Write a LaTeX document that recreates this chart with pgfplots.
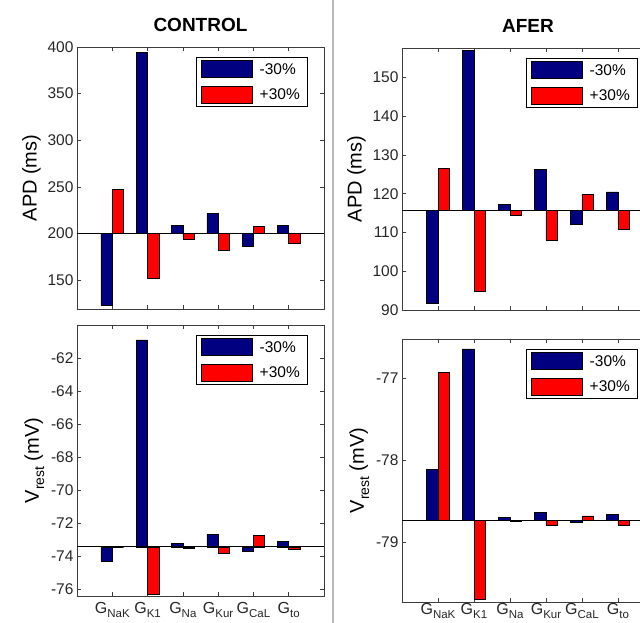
\documentclass[border=0pt]{standalone}
\usepackage{fontspec}
\setmainfont{Liberation Sans}
\usepackage{pgfplots}
\pgfplotsset{compat=1.18}

\definecolor{barblue}{RGB}{0,0,128}
\definecolor{barred}{RGB}{255,0,0}
\definecolor{axgray}{RGB}{60,60,60}

\newcommand{\gsub}[1]{{\fontsize{16}{17}\selectfont G}\raisebox{-0.45ex}{\fontsize{11.5}{12}\selectfont #1}}
\newcommand{\vrest}{V\raisebox{-0.5ex}{\fontsize{14}{14}\selectfont rest} (mV)}

\pgfplotsset{
  panel/.style={
    scale only axis,
    xmin=0, xmax=7, xtick={1,2,3,4,5,6},
    tick align=inside,
    major tick length=4pt,
    axis line style={axgray, line width=0.8pt},
    every tick/.style={axgray, line width=0.6pt},
    tick label style={font=\fontsize{15.5}{16}\selectfont, text=black!85},
    xticklabel style={yshift=-3pt},
    /pgf/number format/assume math mode=true,
    ylabel style={font=\fontsize{20}{22}\selectfont},
    title style={font=\bfseries\fontsize{19}{20}\selectfont, yshift=6pt},
    legend style={at={(1,1)}, anchor=north east, xshift=-17pt, yshift=-10pt,
      draw=black, font=\fontsize{15.5}{16}\selectfont, row sep=8pt,
      inner xsep=5pt, inner ysep=3pt},
    legend cell align=left,
  },
  neg/.style={ybar, bar width=0.32, bar shift=-0.16, fill=barblue, draw=black, line width=0.5pt,
    legend image code/.code={\draw[fill=barblue, draw=black, line width=0.5pt] (0pt,-8pt) rectangle (51pt,9pt); \path (56pt,0pt);}},
  pos/.style={ybar, bar width=0.32, bar shift=0.16, fill=barred, draw=black, line width=0.5pt,
    legend image code/.code={\draw[fill=barred, draw=black, line width=0.5pt] (0pt,-8pt) rectangle (51pt,9pt); \path (56pt,0pt);}},
  base/.style={black, line width=0.8pt, forget plot},
}

\begin{document}
\begin{tikzpicture}

% column separator
\draw[gray!55, line width=1.2pt] (333pt,0pt) -- (333pt,-623pt);

% CONTROL, APD
\begin{axis}[panel, at={(77pt,-47pt)}, anchor=north west,
  width=247pt, height=262pt,
  title={CONTROL}, ylabel={APD (ms)},
  y coord trafo/.code={\pgfmathparse{#1-200}},
  y coord inv trafo/.code={\pgfmathparse{#1+200}},
  ymin=119, ymax=400,
  ytick={150,200,250,300,350,400},
  yticklabels={150,200,250,300,350,400},
  xticklabels={},
]
\addplot[neg] coordinates {(1,123) (2,394.6) (3,209) (4,221.4) (5,186.7) (6,209)};
\addlegendentry{-30\%}
\addplot[pos] coordinates {(1,247.5) (2,151.8) (3,194) (4,182) (5,208) (6,190)};
\addlegendentry{+30\%}
\addplot[base] coordinates {(0,200) (7,200)};
\end{axis}

% CONTROL, Vrest
\begin{axis}[panel, at={(77pt,-325pt)}, anchor=north west,
  width=247pt, height=271pt,
  ylabel={\vrest},
  y coord trafo/.code={\pgfmathparse{#1+73.42}},
  y coord inv trafo/.code={\pgfmathparse{#1-73.42}},
  ymin=-76.4, ymax=-60.0,
  ytick={-76,-74,-72,-70,-68,-66,-64,-62},
  yticklabels={-76,-74,-72,-70,-68,-66,-64,-62},
  xticklabels={\gsub{NaK},\gsub{K1},\gsub{Na},\gsub{Kur},\gsub{CaL},\gsub{to}},
]
\addplot[neg] coordinates {(1,-74.27) (2,-60.9) (3,-73.2) (4,-72.67) (5,-73.7) (6,-73.1)};
\addlegendentry{-30\%}
\addplot[pos] coordinates {(1,-73.42) (2,-76.3) (3,-73.5) (4,-73.8) (5,-72.73) (6,-73.6)};
\addlegendentry{+30\%}
\addplot[base] coordinates {(0,-73.42) (7,-73.42)};
\end{axis}

% AFER, APD
\begin{axis}[panel, at={(402pt,-48pt)}, anchor=north west,
  width=252pt, height=262pt,
  title={AFER}, ylabel={APD (ms)},
  y coord trafo/.code={\pgfmathparse{#1-115.7}},
  y coord inv trafo/.code={\pgfmathparse{#1+115.7}},
  ymin=90, ymax=157.6,
  ytick={90,100,110,120,130,140,150},
  yticklabels={90,100,110,120,130,140,150},
  xticklabels={},
]
\addplot[neg] coordinates {(1,91.7) (2,157) (3,117.3) (4,126.3) (5,112.1) (6,120.5)};
\addlegendentry{-30\%}
\addplot[pos] coordinates {(1,126.5) (2,94.8) (3,114.4) (4,108) (5,119.9) (6,110.8)};
\addlegendentry{+30\%}
\addplot[base] coordinates {(0,115.7) (7,115.7)};
\end{axis}

% AFER, Vrest
\begin{axis}[panel, at={(402pt,-339pt)}, anchor=north west,
  width=252pt, height=263pt,
  ylabel={\vrest},
  y coord trafo/.code={\pgfmathparse{#1+78.73}},
  y coord inv trafo/.code={\pgfmathparse{#1-78.73}},
  ymin=-79.73, ymax=-76.52,
  ytick={-79,-78,-77},
  yticklabels={-79,-78,-77},
  xticklabel style={yshift=3pt, inner ysep=1pt},
  xticklabels={\gsub{NaK},\gsub{K1},\gsub{Na},\gsub{Kur},\gsub{CaL},\gsub{to}},
]
\addplot[neg] coordinates {(1,-78.11) (2,-76.64) (3,-78.70) (4,-78.64) (5,-78.76) (6,-78.66)};
\addlegendentry{-30\%}
\addplot[pos] coordinates {(1,-76.93) (2,-79.70) (3,-78.74) (4,-78.79) (5,-78.68) (6,-78.79)};
\addlegendentry{+30\%}
\addplot[base] coordinates {(0,-78.73) (7,-78.73)};
\end{axis}

\pgfresetboundingbox
\path[use as bounding box] (0pt,0pt) rectangle (640pt,-623pt);
\end{tikzpicture}
\end{document}
